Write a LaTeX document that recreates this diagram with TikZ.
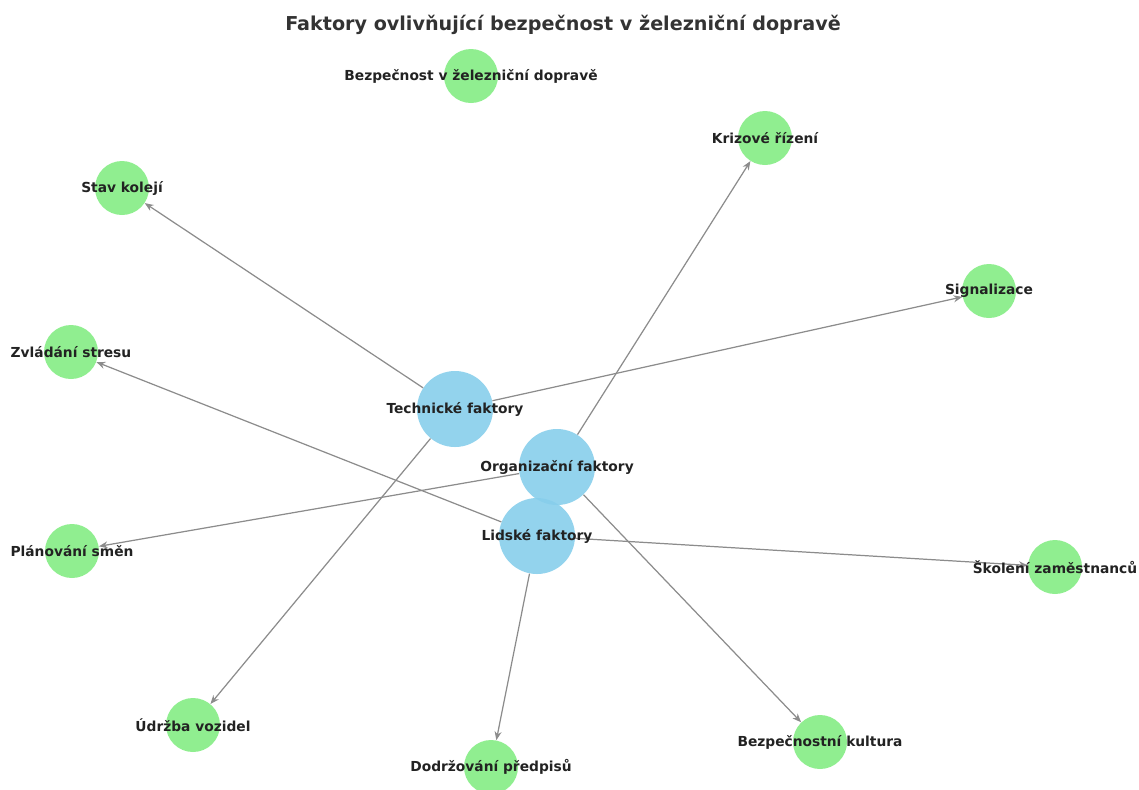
\documentclass[tikz,border=0pt]{standalone}
\usepackage{fontspec}
\setmainfont{DejaVu Sans}
\usepackage{tikz}
\usetikzlibrary{arrows.meta}
\definecolor{factblue}{RGB}{135,206,235}
\definecolor{leafgreen}{RGB}{144,238,144}
\definecolor{edgegray}{RGB}{140,140,140}
\definecolor{textdark}{RGB}{34,34,34}

\begin{document}
\begin{tikzpicture}[x=0.02cm, y=-0.02cm,
  factor/.style={circle, fill=factblue, fill opacity=0.9, draw=none,
    minimum size=76*0.02cm, inner sep=0pt},
  leaf/.style={circle, fill=leafgreen, draw=none,
    minimum size=54*0.02cm, inner sep=0pt},
  lab/.style={font=\bfseries\fontsize{7.85}{9}\selectfont, text=textdark, inner sep=0pt},
  edge/.style={draw=edgegray, line width=0.7pt,
    -{Stealth[length=5pt, width=4pt]}}]
\useasboundingbox (0,0) rectangle (1139,789);
\node[font=\bfseries\fontsize{10.9}{12}\selectfont, text={rgb,255:red,51;green,51;blue,51}] (title) at (563,25)
  {Faktory ovlivňující bezpečnost v železniční dopravě};

% circles
\node[leaf] (bez) at (471,76) {};
\node[leaf] (kriz) at (765,138) {};
\node[leaf] (stav) at (122,188) {};
\node[leaf] (sig) at (989,291) {};
\node[leaf] (stres) at (71,352) {};
\node[leaf] (plan) at (72,551) {};
\node[leaf] (skol) at (1055,567) {};
\node[leaf] (udrz) at (193,725) {};
\node[leaf] (kult) at (820,742) {};
\node[leaf] (dodr) at (491,767) {};
\node[factor] (tech) at (455,409) {};
\node[factor] (org) at (557,467) {};
\node[factor] (lid) at (537,536) {};

% edges
\draw[edge] (tech) -- (stav);
\draw[edge] (tech) -- (sig);
\draw[edge] (tech) -- (udrz);
\draw[edge] (org) -- (kriz);
\draw[edge] (org) -- (plan);
\draw[edge] (org) -- (kult);
\draw[edge] (lid) -- (stres);
\draw[edge] (lid) -- (skol);
\draw[edge] (lid) -- (dodr);

% labels
\node[lab] (bez-t) at (bez) {Bezpečnost v železniční dopravě};
\node[lab] (kriz-t) at (kriz) {Krizové řízení};
\node[lab] (stav-t) at (stav) {Stav kolejí};
\node[lab] (sig-t) at (sig) {Signalizace};
\node[lab] (stres-t) at (stres) {Zvládání stresu};
\node[lab] (plan-t) at (plan) {Plánování směn};
\node[lab] (skol-t) at (skol) {Školení zaměstnanců};
\node[lab] (udrz-t) at (udrz) {Údržba vozidel};
\node[lab] (kult-t) at (kult) {Bezpečnostní kultura};
\node[lab] (dodr-t) at (dodr) {Dodržování předpisů};
\node[lab] (tech-t) at (tech) {Technické faktory};
\node[lab] (org-t) at (org) {Organizační faktory};
\node[lab] (lid-t) at (lid) {Lidské faktory};
\end{tikzpicture}
\end{document}
